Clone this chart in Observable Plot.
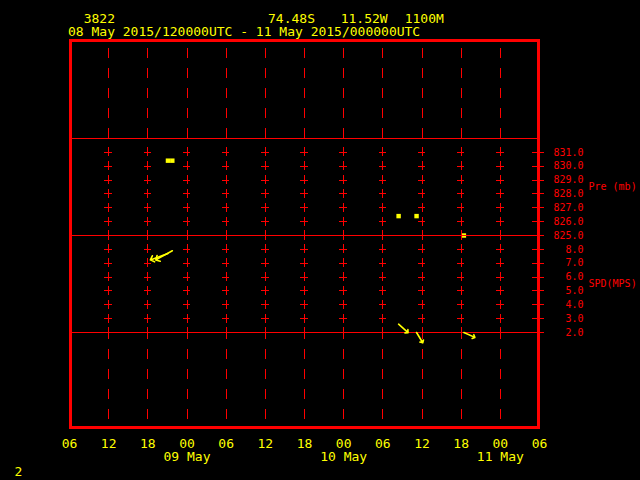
<!DOCTYPE html>
<html>
<head>
<meta charset="utf-8">
<script src="https://cdn.jsdelivr.net/npm/d3@7"></script>
<script src="https://cdn.jsdelivr.net/npm/@observablehq/plot@0.6"></script>
<style>
  html, body { margin: 0; padding: 0; background: #000; }
  #chart { width: 640px; height: 480px; }
  #chart svg line, #chart svg rect { shape-rendering: crispEdges; }
</style>
</head>
<body>
<div id="chart"></div>
<script>
// ---- Header / text data ----
const stationId = "3822";
const stationLat = "74.48S";
const stationLon = "11.52W";
const stationElev = "1100M";
const timeRangeLabel = "08 May 2015/120000UTC - 11 May 2015/000000UTC";
const pageNumber = "2";
const pressureTitle = "Pre (mb)";
const speedTitle = "SPD(MPS)";

// ---- Time axis ----
const axisStart = "2015-05-08T06:00Z";
const axisEnd = "2015-05-11T06:00Z";
const gridTimes = [
  "2015-05-08T12:00Z", "2015-05-08T18:00Z", "2015-05-09T00:00Z", "2015-05-09T06:00Z",
  "2015-05-09T12:00Z", "2015-05-09T18:00Z", "2015-05-10T00:00Z", "2015-05-10T06:00Z",
  "2015-05-10T12:00Z", "2015-05-10T18:00Z", "2015-05-11T00:00Z"
];
const hourTickTimes = [
  "2015-05-08T06:00Z", "2015-05-08T12:00Z", "2015-05-08T18:00Z", "2015-05-09T00:00Z",
  "2015-05-09T06:00Z", "2015-05-09T12:00Z", "2015-05-09T18:00Z", "2015-05-10T00:00Z",
  "2015-05-10T06:00Z", "2015-05-10T12:00Z", "2015-05-10T18:00Z", "2015-05-11T00:00Z",
  "2015-05-11T06:00Z"
];
const hourTickLabels = ["06", "12", "18", "00", "06", "12", "18", "00", "06", "12", "18", "00", "06"];
const dateTickTimes = ["2015-05-09T00:00Z", "2015-05-10T00:00Z", "2015-05-11T00:00Z"];
const dateTickLabels = ["09 May", "10 May", "11 May"];

// ---- Right axis levels ----
const pressureLevels = [831, 830, 829, 828, 827, 826, 825];
const speedLevels = [8, 7, 6, 5, 4, 3, 2];

// ---- Observations ----
const obsTimes = [
  "2015-05-08T21:05Z", "2015-05-08T21:45Z", "2015-05-10T08:25Z",
  "2015-05-10T11:10Z", "2015-05-10T18:25Z"
];
const obsPressure = [830.4, 830.4, 826.4, 826.4, 825.0];
const obsSpeed = [7.7, 7.9, 2.6, 2.0, 2.0];
const obsDirection = [250, 241, 132, 149, 114];

// ---- Build ----
const T = s => new Date(s);
const pToY = p => p - 825 + 14;   // pressure panel
const sToY = s => s - 2 + 7;      // speed panel
const MIN = 60 * 1000;
const RED = "#ff0000", YEL = "#ffff00";
const FONT = "DejaVu Sans Mono";
const fmt1 = d3.format(".1f");

const obs = obsTimes.map((t, i) => ({
  t: T(t), p: obsPressure[i], s: obsSpeed[i], dir: obsDirection[i]
}));

const levelRows = [
  ...pressureLevels.map(v => ({ y: pToY(v) })),
  ...speedLevels.map(v => ({ y: sToY(v) }))
];
const crosses = gridTimes.flatMap(t => levelRows.map(r => ({ t: T(t), y: r.y })));
const endT = T(axisEnd);

const chart = Plot.plot({
  width: 640,
  height: 480,
  marginLeft: 70,
  marginRight: 102,
  marginTop: 40,
  marginBottom: 53,
  style: { background: "#000", fontFamily: FONT },
  x: { type: "utc", domain: [T(axisStart), T(axisEnd)], range: [69, 539], axis: null },
  y: { type: "linear", domain: [0, 7, 14, 21, 28], range: [427, 332, 235, 138, 40], axis: null },
  length: { type: "linear", domain: [2, 8], range: [12, 19] },
  marks: [
    // pressure markers (drawn below lines)
    Plot.dot(obs, { x: "t", y: d => pToY(d.p), symbol: "square", r: 2.5, fill: YEL }),
    // top panel dashed verticals
    Plot.ruleX(gridTimes, { x: T, y1: 21, y2: 28, stroke: RED, strokeWidth: 1,
      strokeDasharray: "10,10" }),
    // bottom panel dashed verticals
    Plot.ruleX(gridTimes, { x: T, y1: 7, y2: 0, stroke: RED, strokeWidth: 1,
      strokeDasharray: "10,10", strokeDashoffset: 3 }),
    // crosses: vertical bits
    Plot.ruleX(crosses, { x: "t", y1: d => d.y - 0.33, y2: d => d.y + 0.33,
      stroke: RED, strokeWidth: 1 }),
    // crosses: horizontal bits
    Plot.ruleY(crosses, { y: "y", x1: d => new Date(+d.t - 34 * MIN), x2: d => new Date(+d.t + 34 * MIN),
      stroke: RED, strokeWidth: 1 }),
    // panel separators
    Plot.ruleY([7, 14, 21], { stroke: RED, strokeWidth: 1 }),
    // right axis ticks
    Plot.ruleY(levelRows, { y: "y", x1: () => new Date(+endT - 60 * MIN), x2: () => new Date(+endT + 48 * MIN),
      stroke: RED, strokeWidth: 1 }),
    // outer frame
    Plot.frame({ stroke: RED, strokeWidth: 3 }),
    // wind arrows
    Plot.vector(obs, { x: "t", y: d => sToY(d.s), rotate: "dir", length: "s", anchor: "start",
      stroke: YEL, strokeWidth: 1.6, r: 3 }),
    // right axis labels
    Plot.text(pressureLevels, { y: pToY, frameAnchor: "right", dx: 45, textAnchor: "end",
      text: fmt1, fill: RED, fontSize: 10, fontFamily: FONT, lineAnchor: "middle" }),
    Plot.text(speedLevels, { y: sToY, frameAnchor: "right", dx: 45, textAnchor: "end",
      text: fmt1, fill: RED, fontSize: 10, fontFamily: FONT, lineAnchor: "middle" }),
    Plot.text([pressureTitle], { y: () => pToY(828.5), frameAnchor: "right", dx: 50, textAnchor: "start",
      text: d => d, fill: RED, fontSize: 10, fontFamily: FONT, lineAnchor: "middle" }),
    Plot.text([speedTitle], { y: () => sToY(5.5), frameAnchor: "right", dx: 50, textAnchor: "start",
      text: d => d, fill: RED, fontSize: 10, fontFamily: FONT, lineAnchor: "middle" }),
    // bottom time labels
    Plot.text(hourTickTimes, { x: T, frameAnchor: "bottom", dy: 16.5, text: (d, i) => hourTickLabels[i],
      fill: YEL, fontSize: 13, fontFamily: FONT, lineAnchor: "middle" }),
    Plot.text(dateTickTimes, { x: T, frameAnchor: "bottom", dy: 29, text: (d, i) => dateTickLabels[i],
      fill: YEL, fontSize: 13, fontFamily: FONT, lineAnchor: "middle" }),
    // header
    Plot.text([stationId], { frameAnchor: "top-left", dx: 13.2, dy: -21.5, text: d => d, textAnchor: "start",
      fill: YEL, fontSize: 13, fontFamily: FONT, lineAnchor: "middle" }),
    Plot.text([stationLat], { frameAnchor: "top-left", dx: 197.5, dy: -21.5, text: d => d, textAnchor: "start",
      fill: YEL, fontSize: 13, fontFamily: FONT, lineAnchor: "middle" }),
    Plot.text([stationLon], { frameAnchor: "top-left", dx: 270.2, dy: -21.5, text: d => d, textAnchor: "start",
      fill: YEL, fontSize: 13, fontFamily: FONT, lineAnchor: "middle" }),
    Plot.text([stationElev], { frameAnchor: "top-left", dx: 334.2, dy: -21.5, text: d => d, textAnchor: "start",
      fill: YEL, fontSize: 13, fontFamily: FONT, lineAnchor: "middle" }),
    Plot.text([timeRangeLabel], { frameAnchor: "top-left", dx: -2.5, dy: -9, text: d => d, textAnchor: "start",
      fill: YEL, fontSize: 13, fontFamily: FONT, lineAnchor: "middle" }),
    Plot.text([pageNumber], { frameAnchor: "bottom-left", dx: -52, dy: 44.5, text: d => d, textAnchor: "middle",
      fill: YEL, fontSize: 13, fontFamily: FONT, lineAnchor: "middle" })
  ]
});
document.getElementById("chart").appendChild(chart);
</script>
</body>
</html>
